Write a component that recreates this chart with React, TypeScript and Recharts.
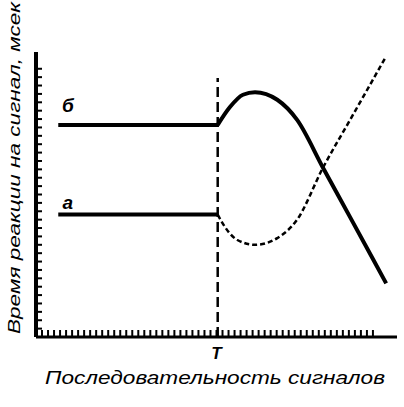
import { ComposedChart, Line, XAxis, YAxis, ReferenceLine, ReferenceDot, Label } from 'recharts';

// signal index where the change happens
const T = 30;

// tick positions (one per signal / per reaction-time step)
const xTicks = Array.from({ length: 56 }, (_, i) => i + 1);
const yTicks = Array.from({ length: 32 }, (_, i) => i + 1);

// curve б (solid)
const bBefore = [
    { x: 3.7, y: 25.3 },
    { x: 30.2, y: 25.3 },
];
const bAfter = [
    { x: 30.2, y: 25.3 },
    { x: 32.2, y: 27.4 },
    { x: 34.4, y: 28.9 },
    { x: 36.4, y: 29.2 },
    { x: 40.1, y: 28.3 },
    { x: 43.4, y: 25.9 },
    { x: 47.7, y: 20.2 },
    { x: 52.2, y: 14.3 },
    { x: 56.0, y: 9.3 },
    { x: 58.2, y: 6.4 },
];

// curve а (solid before T, dashed after)
const aBefore = [
    { x: 3.7, y: 14.6 },
    { x: 30.2, y: 14.6 },
];
const aAfter = [
    { x: 30.2, y: 14.6 },
    { x: 30.9, y: 13.7 },
    { x: 33.4, y: 11.6 },
    { x: 36.4, y: 11.0 },
    { x: 40.1, y: 11.8 },
    { x: 43.4, y: 14.0 },
    { x: 47.7, y: 20.2 },
    { x: 52.2, y: 25.9 },
    { x: 56.0, y: 30.7 },
    { x: 58.2, y: 33.5 },
];

const FONT = '"Liberation Sans", "DejaVu Sans", sans-serif';

const XTick = (props: any) => {
    const { x, y, payload } = props;
    return (
        <g>
            <line x1={x} x2={x} y1={y} y2={y - 7} stroke="#000" strokeWidth={2} />
            {payload.value === T && (
                <text x={x} y={y + 22} textAnchor="middle" fontSize={17} fontStyle="italic" fontWeight="bold" fontFamily={FONT} fill="#000">
                    T
                </text>
            )}
        </g>
    );
};

const YTick = (props: any) => {
    const { x, y } = props;
    return <line x1={x} x2={x + 6} y1={y} y2={y} stroke="#000" strokeWidth={2} />;
};

export default function App() {
    return (
        <div style={{ position: 'fixed', left: 0, top: 0, width: 404, height: 407, background: '#fff' }}>
            <ComposedChart width={404} height={407} margin={{ top: 52, right: 7, left: 0, bottom: 0 }}>
                <XAxis
                    type="number"
                    dataKey="x"
                    domain={[0, 60]}
                    ticks={xTicks}
                    interval={0}
                    height={70}
                    tickSize={0}
                    tickMargin={0}
                    tickLine={false}
                    tick={<XTick />}
                    axisLine={{ stroke: '#000', strokeWidth: 3 }}
                    allowDataOverflow
                >
                    <Label
                        content={() => (
                            <text
                                x={215}
                                y={384}
                                textAnchor="middle"
                                fontSize={19}
                                fontStyle="italic"
                                fontFamily={FONT}
                                textLength={340}
                                lengthAdjust="spacingAndGlyphs"
                                fill="#000"
                            >
                                Последовательность сигналов
                            </text>
                        )}
                    />
                </XAxis>
                <YAxis
                    type="number"
                    dataKey="y"
                    domain={[0, 34]}
                    ticks={yTicks}
                    interval={0}
                    width={36}
                    tickSize={0}
                    tickMargin={0}
                    tickLine={false}
                    tick={<YTick />}
                    axisLine={{ stroke: '#000', strokeWidth: 4 }}
                    allowDataOverflow
                >
                    <Label
                        content={() => (
                            <text
                                x={0}
                                y={0}
                                transform="translate(20, 168) rotate(-90)"
                                textAnchor="middle"
                                fontSize={17}
                                fontStyle="italic"
                                fontFamily={FONT}
                                textLength={332}
                                lengthAdjust="spacingAndGlyphs"
                                fill="#000"
                            >
                                Время реакции на сигнал, мсек
                            </text>
                        )}
                    />
                </YAxis>
                <ReferenceLine
                    segment={[{ x: T + 0.2, y: 0 }, { x: T + 0.2, y: 30.9 }]}
                    stroke="#000"
                    strokeWidth={2.5}
                    strokeDasharray="10 5"
                />
                <Line data={bBefore} dataKey="y" type="linear" stroke="#000" strokeWidth={4} dot={false} isAnimationActive={false} />
                <Line data={bAfter} dataKey="y" type="monotone" stroke="#000" strokeWidth={4} dot={false} isAnimationActive={false} />
                <Line data={aBefore} dataKey="y" type="linear" stroke="#000" strokeWidth={4} dot={false} isAnimationActive={false} />
                <Line data={aAfter} dataKey="y" type="monotone" stroke="#000" strokeWidth={2.5} strokeDasharray="5 3" dot={false} isAnimationActive={false} />
                <ReferenceDot x={5.3} y={27.7} r={0} fill="none" stroke="none">
                    <Label value="б" position="center" fontSize={19} fontStyle="italic" fontWeight="bold" fontFamily={FONT} fill="#000" />
                </ReferenceDot>
                <ReferenceDot x={5.3} y={16.1} r={0} fill="none" stroke="none">
                    <Label value="а" position="center" fontSize={19} fontStyle="italic" fontWeight="bold" fontFamily={FONT} fill="#000" />
                </ReferenceDot>
            </ComposedChart>
        </div>
    );
}
